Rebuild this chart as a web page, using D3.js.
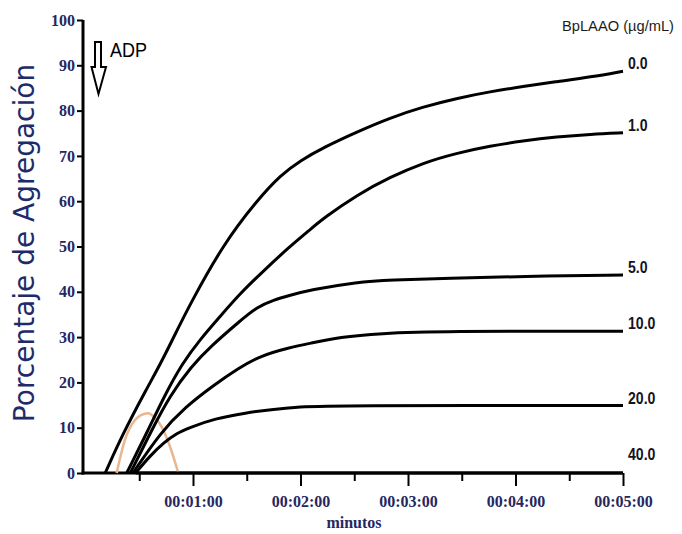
<!DOCTYPE html>
<html>
<head>
<meta charset="utf-8">
<script src="https://cdn.jsdelivr.net/npm/d3@7"></script>
<style>
  body { margin: 0; background: #fff; }
  svg { display: block; }
</style>
</head>
<body>
<svg id="chart" width="682" height="534"></svg>
<script>
// concentrations of BpLAAO (µg/mL), one trace each
const concLabels = ["0.0", "1.0", "5.0", "10.0", "20.0", "40.0"];

// [seconds, % aggregation]
const trace00 = [[11,0],[21,8.8],[34,18.5],[42,24.2],[51,31.4],[58,37],[77,50.6],[96,60.3],[109,65.8],[120,69],[133,71.9],[152,75.4],[170,78.4],[188,80.8],[207,82.7],[226,84.2],[244,85.3],[263,86.4],[282,87.4],[300,88.7]];
const trace10 = [[23,0],[35,9.5],[44,17],[54,24.2],[64,29.5],[75,34.5],[86,39.5],[99,44.5],[114,50],[125,53.6],[133,56.3],[152,61.5],[170,65.3],[188,68.4],[207,70.6],[226,72.2],[244,73.3],[263,74.2],[282,74.8],[300,75.1]];
const trace50 = [[25,0],[37,9.5],[47,17],[59,23.5],[70,28],[86,33.5],[96,36.7],[105,38.2],[114,39.2],[125,40.4],[152,42.2],[170,42.6],[203,43],[243,43.4],[300,43.7]];
const trace100 = [[26.5,0],[42,9],[55.5,14.5],[72,19.5],[85,23],[97,25.8],[114,27.7],[125,28.6],[142,30],[164,30.8],[198,31.3],[300,31.3]];
const trace200 = [[28,0],[36,3.8],[44,6.8],[51,8.8],[58,10],[72,12],[90,13.3],[103,14],[120,14.6],[137,14.9],[300,14.9]];
const trace400 = [[28,0],[300,0]];
const traces = [trace00, trace10, trace50, trace100, trace200, trace400];

// light orange trace near the start
const orangeTrace = [[17.4,0],[22,7.3],[27.6,11.7],[31,12.8],[35,13.2],[38.7,12.2],[42.5,10.2],[47.2,5.8],[51.8,0]];

const yTicks = d3.range(0, 101, 10);
const xMajor = [60, 120, 180, 240, 300];
const xMinor = [30, 90, 150, 210, 270];
const xTickLabels = ["00:01:00", "00:02:00", "00:03:00", "00:04:00", "00:05:00"];

const navy = "#27275f";
const svg = d3.select("#chart");

const x = d3.scaleLinear().domain([0, 300]).range([85.5, 623]);
const y = d3.scaleLinear().domain([0, 100]).range([473, 20]);
const axisX = 83;

// y axis
const yAxis = svg.append("g")
  .attr("transform", `translate(${axisX},0)`)
  .call(d3.axisLeft(y).tickValues(yTicks).tickSize(6).tickPadding(2).tickSizeOuter(0));
yAxis.select(".domain").remove();
yAxis.selectAll(".tick line").attr("stroke", "#000").attr("stroke-width", 2);
yAxis.selectAll(".tick text")
  .attr("fill", navy)
  .style("font-family", "'Liberation Serif', 'DejaVu Serif', serif")
  .style("font-weight", "bold")
  .style("font-size", "16px");

// x axis, minor then major ticks
const xMinorAxis = svg.append("g")
  .attr("transform", `translate(0,${y(0)})`)
  .call(d3.axisBottom(x).tickValues(xMinor).tickSize(8).tickFormat("").tickSizeOuter(0));
xMinorAxis.select(".domain").remove();
xMinorAxis.selectAll(".tick line").attr("stroke", "#000").attr("stroke-width", 2);

const xAxis = svg.append("g")
  .attr("transform", `translate(0,${y(0)})`)
  .call(d3.axisBottom(x).tickValues(xMajor).tickSize(13).tickPadding(10)
    .tickFormat((d, i) => xTickLabels[i]).tickSizeOuter(0));
xAxis.select(".domain").remove();
xAxis.selectAll(".tick line").attr("stroke", "#000").attr("stroke-width", 2);
xAxis.selectAll(".tick text")
  .attr("fill", navy)
  .style("font-family", "'Liberation Serif', 'DejaVu Serif', serif")
  .style("font-weight", "bold")
  .style("font-size", "16px");

// axis lines
svg.append("line")
  .attr("x1", axisX).attr("x2", axisX)
  .attr("y1", y(100)).attr("y2", y(0) + 1.5)
  .attr("stroke", "#000").attr("stroke-width", 3);
svg.append("line")
  .attr("x1", axisX - 1.5).attr("x2", x(300))
  .attr("y1", y(0)).attr("y2", y(0))
  .attr("stroke", "#000").attr("stroke-width", 3);

// traces (basis curve smooths reading noise)
const smoothLine = d3.line()
  .x(d => x(d[0]))
  .y(d => y(d[1]))
  .curve(d3.curveBasis);

const peakLine = d3.line()
  .x(d => x(d[0]))
  .y(d => y(d[1]))
  .curve(d3.curveMonotoneX);

svg.append("path")
  .datum(orangeTrace)
  .attr("d", peakLine)
  .attr("fill", "none")
  .attr("stroke", "#e9b68e")
  .attr("stroke-width", 2.5);

svg.selectAll("path.trace")
  .data(traces)
  .join("path")
  .attr("class", "trace")
  .attr("d", smoothLine)
  .attr("fill", "none")
  .attr("stroke", "#000")
  .attr("stroke-width", 3)
  .attr("stroke-linejoin", "round");

// labels at the end of each trace (squeezed, the original uses a narrow face)
svg.selectAll("text.conc")
  .data(traces)
  .join("text")
  .attr("class", "conc")
  .attr("x", 628)
  .attr("y", (d, i) => y(d[d.length - 1][1]) - (i === traces.length - 1 ? 13 : 2))
  .attr("fill", "#15131f")
  .attr("lengthAdjust", "spacingAndGlyphs")
  .style("font-family", "'Liberation Sans', Arial, sans-serif")
  .style("font-weight", "bold")
  .style("font-size", "16px")
  .text((d, i) => concLabels[i])
  .each(function() {
    this.setAttribute("textLength", this.getComputedTextLength() * 0.88);
  });

// legend header
svg.append("text")
  .attr("x", 562).attr("y", 31)
  .attr("textLength", 112).attr("lengthAdjust", "spacingAndGlyphs")
  .attr("fill", "#1c1c1c")
  .style("font-family", "'Liberation Sans', Arial, sans-serif")
  .style("font-size", "15px")
  .text("BpLAAO (µg/mL)");

// ADP arrow
svg.append("path")
  .attr("d", "M95,42 H101 V67 H106 L98.5,94 L91.5,67 H95 Z")
  .attr("fill", "#fff")
  .attr("stroke", "#000")
  .attr("stroke-width", 2);
svg.append("text")
  .attr("x", 110).attr("y", 57)
  .attr("textLength", 37).attr("lengthAdjust", "spacingAndGlyphs")
  .attr("fill", "#000")
  .style("font-family", "'Liberation Sans', Arial, sans-serif")
  .style("font-size", "21px")
  .text("ADP");

// axis titles
svg.append("text")
  .attr("transform", "translate(34,243) rotate(-90)")
  .attr("text-anchor", "middle")
  .attr("fill", "#1d2b6b")
  .style("font-family", "'DejaVu Sans', Verdana, sans-serif")
  .style("font-size", "28px")
  .text("Porcentaje de Agregación");

svg.append("text")
  .attr("x", 354).attr("y", 528)
  .attr("text-anchor", "middle")
  .attr("fill", navy)
  .style("font-family", "'Liberation Serif', 'DejaVu Serif', serif")
  .style("font-weight", "bold")
  .style("font-size", "16px")
  .text("minutos");
</script>
</body>
</html>
